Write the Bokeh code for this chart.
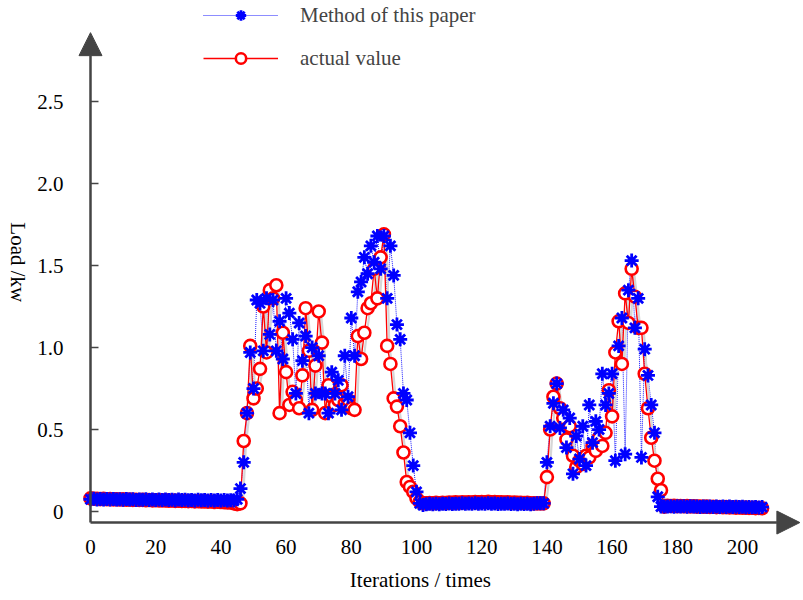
import math
from bokeh.plotting import figure
from bokeh.models import Range1d, FixedTicker, Arrow, NormalHead, Label, Legend, LegendItem, ColumnDataSource
from bokeh.embed import file_html
from bokeh.resources import INLINE

# ---------------- data ----------------
iterations = list(range(207))

actual_flat_start = [0.08, 0.078, 0.078, 0.076, 0.077, 0.075, 0.076, 0.074, 0.075, 0.073,
                     0.074, 0.072, 0.073, 0.071, 0.072, 0.070, 0.071, 0.069, 0.070, 0.068,
                     0.069, 0.068, 0.067, 0.068, 0.066, 0.067, 0.065, 0.066, 0.064, 0.065,
                     0.063, 0.064, 0.062, 0.063, 0.061, 0.062, 0.060, 0.061, 0.059, 0.060,
                     0.058, 0.057, 0.056, 0.055, 0.050, 0.045]
actual_peak1 = [0.05, 0.43, 0.60, 1.01, 0.69, 0.75, 0.87, 1.25, 0.97, 1.35,
                1.30, 1.38, 0.60, 1.09, 0.85, 0.65, 0.73, 0.68, 0.63, 0.83,
                1.24, 0.98, 0.62, 0.89, 1.22, 1.03, 0.60, 0.77, 0.70, 0.65,
                0.68, 0.77, 0.66, 0.68, 0.63, 0.62, 1.07, 0.93, 1.09, 1.24,
                1.27, 1.48, 1.30, 1.55, 1.69, 1.01, 0.90, 0.69, 0.64, 0.52,
                0.36, 0.18, 0.15, 0.12, 0.08, 0.06, 0.05]
actual_flat_mid = [0.05, 0.052, 0.05, 0.053, 0.051, 0.054, 0.052, 0.055, 0.053, 0.056,
                   0.054, 0.056, 0.055, 0.057, 0.055, 0.058, 0.056, 0.058, 0.057, 0.059,
                   0.057, 0.058, 0.056, 0.057, 0.055, 0.056, 0.054, 0.055, 0.053, 0.054,
                   0.052, 0.053, 0.051, 0.05]
actual_peak2 = [0.05, 0.05, 0.05, 0.21, 0.50, 0.70, 0.78, 0.63, 0.57, 0.44,
                0.52, 0.34, 0.27, 0.31, 0.29, 0.34, 0.33, 0.40, 0.37, 0.45,
                0.40, 0.48, 0.74, 0.58, 0.97, 1.16, 0.90, 1.33, 1.15, 1.48,
                1.31, 1.12, 1.12, 0.84, 0.63, 0.45, 0.31, 0.20, 0.13, 0.03]
actual_flat_end = [0.035, 0.034, 0.035, 0.033, 0.034, 0.032, 0.033, 0.031, 0.032, 0.030,
                   0.031, 0.029, 0.030, 0.028, 0.029, 0.027, 0.028, 0.026, 0.027, 0.025,
                   0.026, 0.024, 0.025, 0.023, 0.024, 0.022, 0.023, 0.021, 0.022, 0.020]

method_flat_start = [0.075, 0.078, 0.074, 0.077, 0.073, 0.076, 0.074, 0.077, 0.073, 0.075,
                     0.072, 0.076, 0.073, 0.075, 0.071, 0.074, 0.072, 0.075, 0.071, 0.073,
                     0.070, 0.074, 0.071, 0.073, 0.070, 0.072, 0.069, 0.073, 0.070, 0.072,
                     0.069, 0.071, 0.068, 0.072, 0.069, 0.071, 0.068, 0.070, 0.067, 0.071,
                     0.068, 0.070, 0.067, 0.069, 0.068, 0.075]
method_peak1 = [0.14, 0.30, 0.60, 0.97, 0.75, 1.29, 1.27, 0.98, 1.30, 1.08,
                1.29, 0.98, 1.16, 0.93, 1.30, 1.21, 1.05, 0.72, 1.15, 0.92,
                1.07, 0.60, 1.00, 0.72, 0.95, 0.72, 0.72, 0.60, 0.85, 0.72,
                0.80, 0.62, 0.95, 0.70, 1.18, 0.95, 1.34, 1.40, 1.55, 1.45,
                1.62, 1.52, 1.68, 1.48, 1.68, 1.30, 1.62, 1.44, 1.14, 1.05,
                0.72, 0.68, 0.48, 0.28, 0.12, 0.05, 0.04]
method_flat_mid = [0.045, 0.048, 0.044, 0.047, 0.045, 0.048, 0.046, 0.049, 0.046, 0.048,
                   0.047, 0.050, 0.047, 0.049, 0.048, 0.050, 0.047, 0.049, 0.048, 0.050,
                   0.047, 0.049, 0.046, 0.048, 0.047, 0.049, 0.046, 0.048, 0.045, 0.047,
                   0.046, 0.048, 0.045, 0.047]
method_peak2 = [0.05, 0.05, 0.05, 0.30, 0.52, 0.66, 0.78, 0.51, 0.62, 0.39,
                0.57, 0.23, 0.46, 0.32, 0.52, 0.28, 0.65, 0.42, 0.55, 0.50,
                0.84, 0.65, 0.72, 0.84, 0.31, 1.01, 1.18, 0.35, 1.35, 1.53,
                1.12, 1.30, 0.33, 0.99, 0.83, 0.65, 0.48, 0.09, 0.03, 0.03]
method_flat_end = [0.030, 0.033, 0.029, 0.032, 0.030, 0.033, 0.029, 0.032, 0.030, 0.031,
                   0.028, 0.031, 0.029, 0.031, 0.028, 0.030, 0.027, 0.030, 0.028, 0.030,
                   0.027, 0.029, 0.027, 0.029, 0.026, 0.028, 0.026, 0.028, 0.025, 0.027]

actual_value = actual_flat_start + actual_peak1 + actual_flat_mid + actual_peak2 + actual_flat_end
method_value = method_flat_start + method_peak1 + method_flat_mid + method_peak2 + method_flat_end

x_ticks = [0, 20, 40, 60, 80, 100, 120, 140, 160, 180, 200]
y_ticks = [0, 0.5, 1, 1.5, 2, 2.5]
y_tick_labels = ["0", "0.5", "1.0", "1.5", "2.0", "2.5"]

series_names = ["Method of this paper", "actual value"]
x_title = "Iterations / times"
y_title = "Load /kw"

# ---------------- figure ----------------
FONT = "Liberation Serif"
FS = "21px"
AX = "#444444"

X0, X1 = -27.607, 218.71    # frame spans the whole canvas width (803 px)
Y0, Y1 = -0.518, 3.116      # frame spans the whole canvas height (596 px)
AXIS_Y = -0.067             # where the x axis line sits
ARROW_X_END = 217.6
ARROW_Y_END = 2.92

p = figure(frame_width=803, frame_height=596,
           min_border_left=0, min_border_right=0, min_border_top=0, min_border_bottom=0,
           x_range=Range1d(X0, X1), y_range=Range1d(Y0, Y1),
           output_backend="svg", toolbar_location=None)
p.outline_line_color = None
p.xgrid.grid_line_color = None
p.ygrid.grid_line_color = None
p.background_fill_color = "white"
p.border_fill_color = "white"

src = ColumnDataSource(dict(x=iterations, method=method_value, actual=actual_value,
                            sx=[v + 0.7 for v in iterations],
                            sy=[v - 0.014 for v in actual_value]))

blue_line = p.line("x", "method", source=src, line_color="#1a1aff", line_width=1,
                   line_dash="1 1")
p.line("sx", "sy", source=src, line_color="#d6d6d6", line_width=2.2)
red_line = p.line("x", "actual", source=src, line_color="#ff0000", line_width=1.3)
red_pts = p.scatter("x", "actual", source=src, marker="circle", size=12,
                    line_color="#ff0000", line_width=2.6, fill_color="white")
blue_pts = p.scatter("x", "method", source=src, marker="asterisk", size=14,
                     line_color="#0000ff", line_width=2.8)

# axes (placed at data locations inside the frame)
overrides = {}
for t, lbl in zip(y_ticks, y_tick_labels):
    key = int(t) if float(t).is_integer() else t
    overrides[key] = lbl

p.xaxis.ticker = FixedTicker(ticks=x_ticks)
p.yaxis.ticker = FixedTicker(ticks=y_ticks)
p.yaxis.major_label_overrides = overrides
p.xaxis.fixed_location = AXIS_Y
p.yaxis.fixed_location = 0
for ax in (p.xaxis[0], p.yaxis[0]):
    ax.axis_line_color = None
    ax.minor_tick_line_color = None
    ax.major_label_text_font = FONT
    ax.major_label_text_font_size = FS
    ax.major_label_text_color = "black"
p.xaxis.major_tick_line_color = None
p.xaxis.major_label_standoff = 11
p.yaxis.major_tick_in = 8
p.yaxis.major_tick_out = 0
p.yaxis.major_tick_line_color = AX
p.yaxis.major_tick_line_width = 1.5
p.yaxis.major_label_standoff = 27

# axis lines with arrows
p.add_layout(Arrow(x_start=0, y_start=AXIS_Y, x_end=0, y_end=ARROW_Y_END,
                   line_color=AX, line_width=2.5,
                   end=NormalHead(size=23, fill_color=AX, line_color=AX)))
p.add_layout(Arrow(x_start=0, y_start=AXIS_Y, x_end=ARROW_X_END, y_end=AXIS_Y,
                   line_color=AX, line_width=2.5,
                   end=NormalHead(size=23, fill_color=AX, line_color=AX)))

# axis titles
p.add_layout(Label(x=101.2, y=-0.42, text=x_title, text_font=FONT, text_font_size=FS,
                   text_align="center", text_baseline="middle", text_color="black"))
p.add_layout(Label(x=-22.1, y=1.52, text=y_title, text_font=FONT, text_font_size=FS,
                   text_align="center", text_baseline="middle", text_color="black",
                   angle=-math.pi / 2))

# legend
legend = Legend(items=[LegendItem(label=series_names[0], renderers=[blue_line, blue_pts]),
                       LegendItem(label=series_names[1], renderers=[red_line, red_pts])],
                location=(203, 525), glyph_width=75, glyph_height=26, label_height=26,
                spacing=17, padding=0, margin=0, label_standoff=22,
                label_text_font=FONT, label_text_font_size=FS,
                background_fill_alpha=0, border_line_color=None)
p.add_layout(legend)

open("out.html", "w").write(file_html(p, INLINE))
